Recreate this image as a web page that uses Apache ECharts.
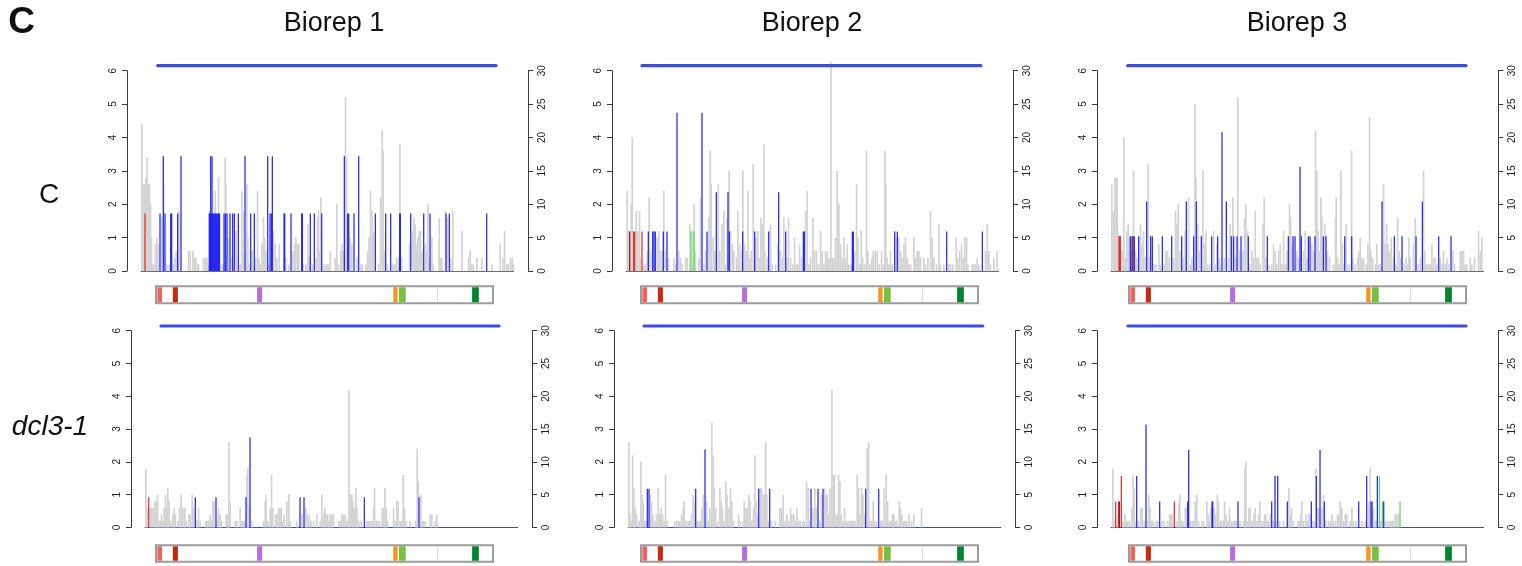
<!DOCTYPE html>
<html><head><meta charset="utf-8">
<script src="https://cdn.jsdelivr.net/npm/echarts@6/dist/echarts.min.js"></script>
<style>html,body{margin:0;padding:0;background:#fff}#c{width:1522px;height:566px}</style>
</head><body><div id="c"></div>
<script>
// ---------- labels ----------
const figLetter = 'C';
const colTitles = ['Biorep 1', 'Biorep 2', 'Biorep 3'];
const rowTitles = ['C', 'dcl3-1'];
const leftTicks = [0, 1, 2, 3, 4, 5, 6];
const rightTicks = [0, 5, 10, 15, 20, 25, 30];

// ---------- coverage data: [position, value] ----------
const grayC1 = [[2,4.4],[6,2.6],[10,2.6],[14,2.8],[18,3.4],[22,2.6],[25,2.6],[28,2.0],[31,1.0],[35,0.2],[39,0.2],[42,0.8],[47,1.0],[51,0.8],[62,1.6],[67,2.6],[77,0.2],[84,0.2],[97,0.2],[101,0.4],[105,0.6],[109,0.6],[113,1.8],[142,0.6],[147,0.6],[155,0.6],[159,0.4],[164,0.4],[169,0.2],[172,0.2],[187,0.4],[192,0.4],[197,0.4],[201,0.2],[205,1.8],[222,2.4],[227,1.6],[232,2.8],[237,1.7],[241,0.2],[245,0.2],[252,3.4],[254,2.6],[262,1.0],[272,0.4],[285,1.2],[297,0.2],[302,2.4],[307,1.8],[310,0.6],[317,2.6],[320,1.0],[324,0.2],[333,0.6],[335,0.2],[344,0.4],[349,2.4],[353,0.4],[357,0.2],[362,0.8],[367,1.6],[370,1.0],[374,0.6],[382,0.2],[397,1.2],[402,0.8],[407,0.4],[414,0.8],[434,0.4],[442,0.2],[455,0.6],[460,0.8],[464,1.0],[469,0.8],[473,0.8],[487,0.2],[494,0.2],[500,1.4],[504,0.4],[514,0.2],[525,0.4],[529,1.6],[532,1.8],[535,0.6],[539,2.2],[547,0.2],[553,0.2],[558,0.2],[562,0.2],[567,0.6],[582,0.4],[587,2.0],[592,0.2],[599,0.6],[602,0.8],[607,0.6],[613,5.2],[616,3.4],[627,1.0],[632,0.8],[647,0.4],[659,0.2],[664,0.2],[674,0.2],[679,0.6],[683,1.0],[688,2.4],[693,1.8],[697,1.2],[712,0.2],[718,2.2],[723,4.2],[726,3.6],[730,0.6],[739,0.2],[755,0.2],[761,0.2],[766,0.4],[771,0.4],[776,3.8],[781,0.4],[805,0.8],[814,1.2],[818,1.6],[822,1.4],[826,0.8],[830,1.0],[834,1.2],[838,1.2],[842,0.6],[853,0.8],[857,0.6],[860,2.0],[864,0.4],[872,1.0],[876,0.2],[894,1.6],[898,0.4],[902,0.4],[913,1.8],[919,1.6],[929,0.4],[935,1.8],[962,1.2],[982,0.4],[987,0.6],[992,0.2],[997,0.2],[1007,0.4],[1022,0.4],[1052,0.2],[1077,0.8],[1085,0.4],[1090,1.2],[1097,0.2],[1101,0.2],[1108,0.4],[1113,0.4],[1117,0.2]];
const blueC1 = [[57,1.72],[67,3.44],[72,1.72],[89,1.72],[92,1.72],[110,1.72],[120,3.44],[205,1.72],[207,1.72],[209,3.44],[211,1.72],[213,3.44],[215,1.72],[218,1.72],[221,1.72],[224,1.72],[227,1.72],[230,1.72],[233,1.72],[235,1.72],[249,1.72],[253,1.72],[258,1.72],[267,1.72],[275,1.72],[280,1.72],[292,1.72],[312,3.44],[329,1.72],[340,1.72],[380,3.44],[387,1.72],[391,1.72],[394,3.44],[429,1.72],[431,1.72],[450,1.72],[482,1.72],[484,1.72],[508,1.72],[520,1.72],[542,1.72],[610,3.44],[620,1.72],[623,1.72],[639,1.72],[653,3.44],[703,1.72],[734,1.72],[749,1.72],[776,1.72],[778,1.72],[809,1.72],[848,1.72],[867,1.72],[915,1.72],[925,1.72],[1037,1.72]];
const redC1 = [[12,1.72]];
const darkRedC1 = [];
const greenC1 = [];

const grayC2 = [[3,2.4],[8,1.2],[15,2.0],[18,4.0],[21,1.2],[30,1.8],[35,1.2],[40,1.8],[43,0.4],[53,0.2],[58,0.2],[63,0.6],[69,2.2],[73,0.6],[93,1.0],[98,1.2],[103,0.6],[108,0.6],[113,2.4],[118,0.6],[127,0.4],[143,0.4],[148,0.2],[158,0.6],[163,0.4],[168,0.2],[178,0.4],[183,0.4],[191,1.4],[200,1.2],[204,2.0],[208,0.6],[218,0.4],[223,2.2],[233,0.2],[238,0.6],[248,1.6],[252,3.6],[255,2.6],[261,1.0],[266,0.6],[276,2.6],[281,0.6],[287,1.4],[293,1.8],[298,0.2],[303,1.6],[309,3.0],[313,1.2],[318,0.8],[323,0.6],[331,0.4],[335,1.8],[340,0.8],[346,0.6],[350,3.0],[355,0.8],[360,0.6],[365,2.4],[370,0.4],[375,0.6],[381,3.2],[389,1.0],[395,1.2],[400,0.4],[404,1.6],[408,1.4],[413,3.8],[416,0.6],[423,0.4],[433,1.4],[438,0.2],[448,0.2],[455,0.8],[463,0.6],[468,0.4],[473,1.6],[483,0.4],[487,1.6],[493,0.4],[499,0.2],[505,1.0],[510,0.2],[515,0.2],[520,0.8],[526,0.4],[538,1.8],[543,2.4],[548,0.2],[553,0.4],[560,1.6],[565,0.6],[571,0.6],[577,0.2],[583,1.2],[588,0.6],[593,0.2],[598,0.6],[603,0.6],[608,0.4],[614,6.25],[618,0.4],[623,0.4],[628,1.0],[633,3.0],[638,2.0],[643,0.8],[648,0.4],[653,1.0],[658,0.4],[663,0.8],[668,0.2],[675,0.2],[685,0.6],[691,2.6],[695,1.0],[701,0.2],[705,1.2],[709,0.4],[715,0.2],[721,3.6],[725,0.6],[731,0.2],[737,0.4],[741,0.6],[747,0.6],[753,0.6],[759,0.2],[766,0.6],[771,0.2],[776,3.6],[779,2.6],[783,0.4],[788,0.2],[793,0.6],[798,0.2],[811,1.0],[818,1.0],[823,0.6],[827,0.4],[833,0.8],[838,1.0],[843,0.4],[848,0.2],[853,0.2],[863,1.0],[868,0.4],[873,0.6],[878,0.6],[883,0.4],[893,0.4],[898,0.2],[905,0.4],[913,1.8],[918,1.0],[923,0.4],[931,0.2],[938,1.4],[943,0.2],[953,0.2],[968,0.2],[973,0.2],[980,0.2],[990,1.0],[995,0.4],[1000,0.6],[1006,0.8],[1011,0.4],[1016,1.0],[1021,1.0],[1025,0.2],[1038,0.2],[1043,0.2],[1048,0.2],[1053,0.4],[1058,0.2],[1078,0.6],[1083,1.4],[1088,0.6],[1093,0.2],[1103,0.4],[1113,0.6]];
const blueC2 = [[67,1.18],[80,1.18],[84,1.18],[88,1.18],[112,1.18],[123,1.18],[153,4.74],[228,4.74],[243,1.18],[271,2.36],[306,2.36],[310,1.18],[350,1.18],[386,1.18],[428,1.18],[458,2.36],[479,1.18],[532,1.18],[535,1.18],[679,1.18],[682,1.18],[806,1.18],[814,1.18],[962,1.18],[1069,1.18]];
const redC2 = [[23,1.18],[26,1.18],[48,1.18]];
const darkRedC2 = [[11,1.18]];
const greenC2 = [[195,1.18],[204,1.18]];

const grayC3 = [[2,2.6],[7,1.8],[11,2.8],[15,2.8],[18,2.8],[20,1.2],[29,0.6],[34,0.6],[38,4.0],[42,0.4],[47,1.2],[51,1.4],[55,1.0],[60,0.6],[67,3.0],[73,0.6],[77,0.4],[88,1.4],[92,0.8],[97,1.2],[102,0.4],[111,3.2],[114,0.4],[129,0.2],[135,0.2],[143,0.8],[147,0.2],[159,0.2],[164,0.6],[169,0.6],[174,0.4],[187,0.4],[193,1.8],[197,1.4],[201,2.0],[207,0.6],[217,0.4],[222,1.2],[232,2.2],[237,0.2],[242,0.4],[251,5.0],[254,2.8],[260,1.4],[264,0.6],[275,3.0],[279,0.8],[284,1.2],[289,0.2],[295,0.2],[307,1.2],[312,0.2],[317,0.8],[325,0.4],[329,0.2],[339,0.4],[352,0.4],[357,1.4],[365,2.2],[373,0.4],[380,5.2],[384,0.6],[395,0.6],[400,1.6],[404,2.0],[409,1.2],[417,0.2],[422,0.6],[427,0.4],[432,1.8],[437,0.4],[442,0.4],[447,0.2],[455,1.4],[459,2.2],[464,0.4],[474,0.2],[482,0.2],[487,0.8],[492,0.6],[497,0.2],[502,0.6],[507,0.8],[512,0.2],[517,1.2],[522,0.2],[527,0.6],[535,2.0],[538,1.6],[542,0.8],[557,0.6],[562,0.4],[577,0.6],[582,1.2],[587,0.4],[602,0.8],[607,0.6],[613,4.2],[617,3.0],[621,1.2],[625,0.6],[629,2.2],[632,1.6],[641,1.4],[649,0.6],[655,0.4],[667,0.2],[673,1.6],[675,2.2],[679,0.4],[683,0.2],[689,3.0],[693,0.8],[697,0.2],[705,1.4],[709,0.2],[715,0.2],[721,3.6],[725,0.4],[732,0.2],[739,0.4],[743,0.6],[747,1.0],[752,0.4],[757,0.4],[765,0.2],[770,0.8],[775,4.6],[779,0.6],[784,0.4],[792,0.2],[797,0.8],[803,0.2],[808,0.2],[817,2.6],[821,0.8],[826,1.4],[830,0.8],[835,0.6],[840,1.0],[847,0.4],[855,0.2],[859,1.6],[864,0.6],[869,0.4],[879,0.2],[885,0.4],[889,0.2],[893,1.0],[897,0.4],[907,0.8],[912,1.6],[921,0.2],[927,0.4],[937,3.0],[941,0.6],[947,0.2],[952,0.2],[957,0.2],[962,0.8],[967,0.4],[972,0.4],[977,0.2],[987,0.4],[992,0.2],[997,0.6],[1002,0.2],[1007,0.4],[1013,0.2],[1025,0.6],[1030,0.2],[1047,0.6],[1052,0.6],[1057,0.6],[1062,0.2],[1067,0.2],[1077,0.4],[1082,0.2],[1090,0.4],[1102,1.2],[1107,0.6],[1112,1.0]];
const blueC3 = [[58,1.04],[63,1.04],[70,1.04],[83,1.04],[107,2.08],[119,1.04],[124,1.04],[154,1.04],[182,1.04],[212,1.04],[226,2.08],[248,1.04],[256,2.08],[271,1.04],[302,1.04],[320,1.04],[333,4.16],[346,2.08],[361,1.04],[368,1.04],[378,1.04],[390,1.04],[412,1.04],[469,1.04],[532,1.04],[546,1.04],[552,1.04],[567,3.12],[571,1.04],[592,1.04],[597,1.04],[612,1.04],[637,1.04],[645,1.04],[701,1.04],[722,1.04],[813,2.08],[850,1.04],[873,1.04],[915,1.04],[934,2.08],[983,1.04],[1020,1.04]];
const redC3 = [[24,1.04],[26,1.04],[28,1.04]];
const darkRedC3 = [[66,1.04]];
const greenC3 = [];

const grayD1 = [[2,1.8],[6,0.6],[15,0.6],[20,0.6],[25,0.6],[29,0.8],[33,0.8],[37,1.0],[41,0.2],[45,0.2],[49,0.4],[53,0.2],[57,0.6],[61,1.0],[65,0.6],[68,1.2],[72,0.8],[77,0.2],[83,0.4],[87,0.6],[91,0.4],[99,0.2],[103,0.6],[108,1.0],[113,0.6],[119,0.6],[123,0.2],[131,0.4],[135,0.4],[141,1.0],[145,0.6],[155,0.2],[160,0.6],[165,0.2],[181,0.2],[185,0.2],[190,0.2],[195,0.4],[199,0.2],[203,0.8],[207,0.8],[217,0.2],[220,0.6],[225,0.4],[230,0.2],[243,0.4],[248,0.4],[251,2.6],[255,0.8],[270,0.2],[275,0.2],[285,0.6],[290,0.2],[295,0.2],[299,0.2],[305,1.6],[308,1.8],[312,0.6],[320,0.2],[355,0.2],[360,0.8],[363,1.0],[368,0.2],[375,0.6],[379,1.6],[383,0.6],[391,0.4],[395,0.4],[400,0.6],[404,0.6],[408,0.6],[412,0.2],[417,0.4],[425,0.8],[431,1.0],[435,0.2],[455,0.2],[470,0.4],[482,0.6],[485,0.4],[491,0.4],[497,0.2],[505,0.2],[515,0.4],[525,0.2],[530,1.0],[535,0.4],[539,0.6],[543,0.4],[547,0.4],[551,0.2],[555,0.4],[560,0.4],[565,0.4],[580,0.2],[585,0.2],[590,0.4],[595,0.4],[600,0.4],[605,0.2],[611,4.2],[615,1.0],[620,1.0],[623,0.8],[627,0.6],[632,1.2],[635,0.6],[641,0.2],[648,0.2],[665,0.2],[670,0.2],[675,0.2],[680,0.2],[685,0.6],[688,1.2],[693,0.2],[697,0.2],[703,0.2],[711,0.6],[715,0.6],[719,1.2],[723,0.6],[727,0.2],[745,0.6],[749,0.2],[755,0.8],[759,0.8],[765,0.2],[770,0.2],[774,1.6],[778,0.6],[783,0.2],[795,0.2],[812,0.2],[816,2.4],[819,1.4],[827,1.0],[831,0.2],[835,0.2],[840,0.2],[855,0.4],[860,0.4],[870,0.2],[875,0.4]];
const blueD1 = [[151,0.92],[213,0.92],[303,0.92],[315,2.74],[465,0.92],[477,0.92],[658,0.92],[822,0.92]];
const redD1 = [[11,0.92]];
const darkRedD1 = [];
const greenD1 = [];

const grayD2 = [[2,2.6],[5,0.4],[9,0.2],[13,2.2],[17,1.2],[21,0.6],[25,0.4],[31,0.2],[35,0.2],[38,2.0],[42,1.0],[45,0.8],[50,0.2],[55,0.2],[66,1.0],[70,0.8],[74,0.4],[80,0.2],[85,0.4],[90,1.2],[95,0.4],[99,0.6],[103,0.4],[108,0.2],[112,1.6],[117,0.2],[139,0.2],[145,0.2],[150,0.2],[155,0.2],[160,0.4],[165,0.6],[168,0.8],[173,0.2],[180,0.2],[185,0.2],[190,0.4],[195,1.0],[199,0.8],[207,0.2],[212,0.2],[217,0.2],[221,0.6],[225,1.0],[235,0.8],[240,0.2],[245,0.6],[251,3.2],[255,2.2],[258,1.2],[262,0.6],[268,0.2],[275,1.2],[279,0.8],[283,0.6],[288,0.2],[293,1.4],[297,1.0],[302,0.6],[307,1.2],[311,0.8],[316,0.2],[331,0.4],[336,0.2],[345,0.2],[348,0.8],[353,0.6],[357,0.6],[362,1.0],[366,0.8],[371,0.2],[376,0.6],[380,2.2],[384,0.8],[388,0.4],[396,1.2],[400,1.2],[405,1.0],[408,1.0],[412,2.6],[416,1.0],[421,0.2],[430,0.2],[442,0.2],[455,0.6],[460,0.6],[465,1.0],[470,0.2],[476,0.4],[481,0.2],[487,0.6],[491,0.4],[497,0.4],[501,0.2],[506,0.6],[511,0.2],[516,0.2],[524,0.2],[529,0.2],[535,1.4],[540,1.2],[545,0.2],[554,0.6],[560,1.2],[564,0.6],[575,0.2],[580,1.0],[589,1.2],[593,1.0],[597,1.0],[600,0.4],[605,1.2],[611,4.2],[615,1.6],[618,1.6],[622,0.4],[627,0.4],[631,1.6],[635,1.4],[639,0.4],[644,0.2],[649,0.6],[653,0.2],[659,0.2],[665,0.2],[670,0.2],[675,0.2],[680,0.2],[687,1.6],[691,1.2],[695,0.4],[700,1.2],[704,1.0],[708,0.4],[717,2.4],[721,2.6],[725,0.2],[730,0.2],[735,0.8],[739,0.2],[745,0.2],[758,0.2],[763,0.2],[768,1.2],[774,1.6],[778,0.8],[783,0.2],[788,0.2],[793,0.4],[797,0.4],[801,0.2],[806,0.2],[813,0.8],[817,0.6],[821,0.4],[825,0.2],[830,0.2],[835,0.2],[842,0.4],[850,0.2],[857,0.4],[880,0.6]];
const blueD2 = [[58,1.18],[63,1.18],[203,1.18],[231,2.38],[392,1.18],[425,1.18],[549,1.18],[570,1.18],[585,1.18],[713,1.18],[752,1.18]];
const redD2 = [];
const darkRedD2 = [];
const greenD2 = [];

const grayD3 = [[5,1.8],[10,0.2],[19,0.4],[35,0.2],[41,0.4],[45,0.2],[50,0.2],[55,0.2],[62,0.6],[66,1.6],[69,1.2],[73,0.2],[82,0.2],[89,0.6],[93,0.6],[99,0.2],[109,0.2],[113,1.0],[117,0.6],[122,0.2],[127,0.2],[135,0.2],[140,0.2],[152,0.2],[159,0.2],[169,0.2],[175,0.4],[179,0.4],[183,0.4],[197,0.2],[203,0.8],[206,1.0],[210,0.2],[215,0.2],[222,0.6],[226,0.6],[238,0.2],[243,0.2],[248,0.2],[252,0.8],[257,1.0],[262,0.2],[272,0.2],[277,0.2],[287,0.8],[291,0.4],[295,0.2],[299,0.6],[309,0.6],[314,0.4],[318,1.0],[322,0.8],[327,0.2],[332,0.2],[337,0.2],[340,0.8],[345,0.4],[350,0.2],[355,0.6],[360,0.2],[366,0.2],[371,0.2],[375,0.2],[387,0.2],[397,0.2],[401,1.8],[404,2.0],[408,0.2],[413,0.6],[417,0.6],[423,0.2],[428,0.4],[432,0.6],[437,0.2],[442,0.4],[446,0.8],[451,0.2],[457,0.2],[460,0.4],[464,0.4],[468,0.2],[473,0.2],[477,0.4],[486,0.2],[496,0.2],[505,0.2],[517,0.2],[533,1.2],[537,0.4],[541,0.6],[547,0.2],[560,0.2],[564,0.2],[568,0.4],[572,0.8],[577,0.2],[584,0.4],[589,0.2],[593,0.4],[597,0.4],[605,0.2],[610,0.2],[614,1.8],[620,0.6],[623,0.6],[632,0.6],[637,1.0],[645,0.2],[652,0.2],[657,0.2],[662,0.4],[667,0.2],[673,0.2],[679,0.4],[683,0.4],[687,0.8],[692,0.6],[697,0.2],[702,0.4],[707,0.4],[717,0.2],[722,0.6],[727,0.2],[734,0.2],[752,0.2],[762,0.2],[773,0.8],[777,1.8],[787,0.6],[791,0.2],[795,0.2],[809,0.2],[823,0.2],[829,0.2],[835,0.2],[839,0.2],[843,0.2],[847,0.2],[852,0.4],[857,0.4],[862,0.4]];
const blueD3 = [[77,1.57],[105,3.14],[146,0.79],[230,0.79],[233,2.36],[303,0.79],[305,0.79],[381,0.79],[482,0.79],[492,1.57],[500,1.57],[529,0.79],[601,0.79],[616,1.57],[627,2.36],[640,0.79],[743,0.79],[767,1.57],[780,0.79],[783,0.79],[799,1.57],[818,0.79]];
const redD3 = [[14,0.79],[23,0.79],[31,1.57],[190,0.79]];
const darkRedD3 = [[25,0.79]];
const greenD3 = [[805,1.57],[814,0.79],[867,0.79]];

// ---------- gene model (0..1000 along the locus) ----------
const geneSegStart = [4, 50, 300, 704, 721, 834, 938];
const geneSegEnd   = [18, 65, 315, 717, 741, 837, 958];
const genePalette  = ['#ef6461', '#c8280c', '#b56cdf', '#f5951f', '#77c043', '#dcdcdc', '#00852e'];
const posMax = 1118;

// ---------- layout ----------
const panels = [
  [grayC1, blueC1, redC1, darkRedC1, greenC1],
  [grayC2, blueC2, redC2, darkRedC2, greenC2],
  [grayC3, blueC3, redC3, darkRedC3, greenC3],
  [grayD1, blueD1, redD1, darkRedD1, greenD1],
  [grayD2, blueD2, redD2, darkRedD2, greenD2],
  [grayD3, blueD3, redD3, darkRedD3, greenD3]
];
const mainLeft = [141, 626, 1111, 145, 628, 1111];
const mainWidth = 372.7;
const rowTop = [70.7, 330.7], rowHeight = [200.3, 196.7];
const geneLeft = [156, 641, 1129, 156, 641, 1129], geneWidth = 337;
const geneTop = [286.3, 545.3], geneHeight = [17, 16.4];
const lineLeft = [157.7, 642, 1127.7, 161, 644, 1128];
const lineWidthPx = [338.3, 339, 338.3, 338, 338.7, 338];
const lineTop = [63.7, 324];
const baseColor = ['#6e6e6e', '#4a4f8f'];
const markColors = ['#d3d3d3', '#1c1cf5', '#ee2222', '#8b1010', '#4fe04f'];

const FONT = 'Liberation Sans, Arial, sans-serif';
const option = {animation: false, backgroundColor: '#fff', grid: [], xAxis: [], yAxis: [], series: [], graphic: []};

panels.forEach((p, i) => {
  const row = Math.floor(i / 3);
  const gi = option.grid.length, xi = option.xAxis.length, yi = option.yAxis.length;
  option.grid.push({left: mainLeft[i], top: rowTop[row], width: mainWidth, height: rowHeight[row]});
  option.grid.push({left: geneLeft[i], top: geneTop[row], width: geneWidth, height: geneHeight[row], show: true, borderColor: '#9c9c9c', borderWidth: 2, backgroundColor: '#fff'});
  option.grid.push({left: lineLeft[i], top: lineTop[row], width: lineWidthPx[i], height: 4});

  option.xAxis.push({type: 'value', gridIndex: gi, min: 0, max: posMax, axisLine: {show: true, onZero: false, lineStyle: {color: baseColor[row], width: 1}}, axisTick: {show: false}, axisLabel: {show: false}, splitLine: {show: false}});
  option.xAxis.push({type: 'value', gridIndex: gi + 1, min: 0, max: 1000, show: false});
  option.xAxis.push({type: 'value', gridIndex: gi + 2, min: 0, max: 1, show: false});

  const axLine = {show: true, onZero: false, lineStyle: {color: '#3a3a3a', width: 1}};
  const axTick = {show: true, length: 5, lineStyle: {color: '#3a3a3a'}};
  option.yAxis.push({type: 'value', gridIndex: gi, position: 'left', offset: 14, min: leftTicks[0], max: leftTicks[leftTicks.length - 1], interval: leftTicks[1] - leftTicks[0],
    axisLine: axLine, axisTick: axTick, splitLine: {show: false},
    axisLabel: {rotate: 90, fontSize: 10, color: '#222', fontFamily: FONT, margin: 9}});
  option.yAxis.push({type: 'value', gridIndex: gi, position: 'right', offset: 14.5, min: rightTicks[0], max: rightTicks[rightTicks.length - 1], interval: rightTicks[1] - rightTicks[0],
    axisLine: axLine, axisTick: axTick, splitLine: {show: false},
    axisLabel: {rotate: 90, fontSize: 10, color: '#222', fontFamily: FONT, margin: 9}});
  option.yAxis.push({type: 'value', gridIndex: gi + 1, min: 0, max: 1, show: false});
  option.yAxis.push({type: 'value', gridIndex: gi + 2, min: -1, max: 1, show: false});

  p.forEach((arr, k) => {
    option.series.push({type: 'bar', xAxisIndex: xi, yAxisIndex: yi, data: arr, barWidth: k === 0 ? 1.7 : 1.3, barGap: '-100%',
      clip: false, silent: true, itemStyle: {color: markColors[k], opacity: k === 0 ? 1 : 0.92}, z: 2 + k});
  });

  option.series.push({type: 'custom', xAxisIndex: xi + 1, yAxisIndex: yi + 2, silent: true,
    data: geneSegStart.map((s, k) => [s, geneSegEnd[k], k]),
    renderItem: function (params, api) {
      const a = api.coord([api.value(0), 1]);
      const b = api.coord([api.value(1), 0]);
      return {type: 'rect', shape: {x: a[0], y: a[1] + 1, width: b[0] - a[0], height: b[1] - a[1] - 2}, style: {fill: genePalette[api.value(2)]}};
    }});

  option.series.push({type: 'line', xAxisIndex: xi + 2, yAxisIndex: yi + 3, data: [[0, 0], [1, 0]], symbol: 'none', silent: true,
    lineStyle: {color: '#3a4edb', width: 3.2, cap: 'round'}});
});

function txt(t, x, y, font, align) {
  return {type: 'text', x: x, y: y, silent: true,
    style: {text: t, font: font, fill: '#111', textAlign: align || 'center', textVerticalAlign: 'middle', align: align || 'center', verticalAlign: 'middle'}};
}
option.graphic.push(txt(figLetter, 21.5, 23, 'bold 37px ' + FONT));
const titleX = [334, 812, 1297];
colTitles.forEach((t, k) => option.graphic.push(txt(t, titleX[k], 23.5, '27px ' + FONT)));
option.graphic.push(txt(rowTitles[0], 49, 195, '28px ' + FONT));
option.graphic.push(txt(rowTitles[1], 50, 427.5, 'italic 28px ' + FONT));

const chart = echarts.init(document.getElementById('c'), null, {renderer: 'canvas'});
chart.setOption(option);
</script></body></html>
